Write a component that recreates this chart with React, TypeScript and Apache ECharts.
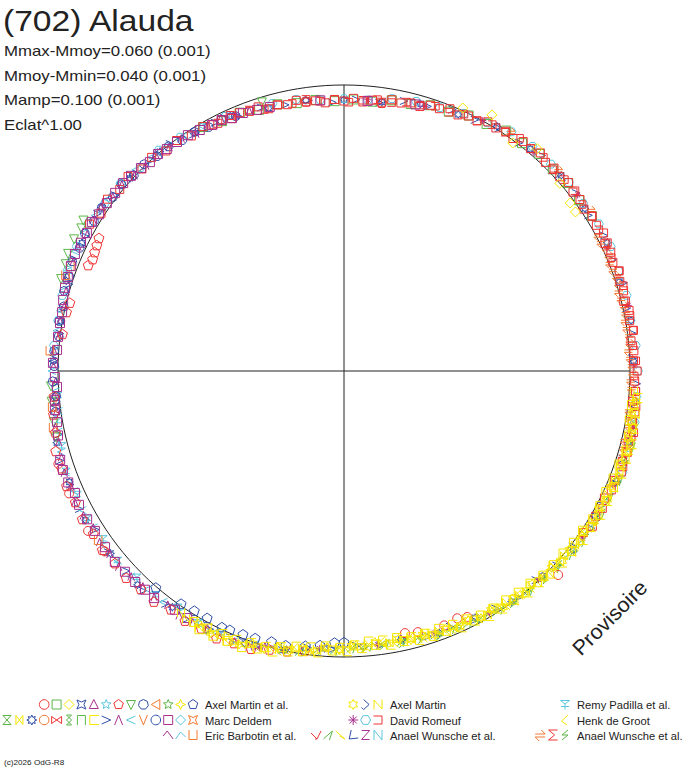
import React, { useEffect, useRef } from "react";
import * as echarts from "echarts";

// ---------- texts ----------
const TITLE = "(702) Alauda";
const STATS = ["Mmax-Mmoy=0.060 (0.001)", "Mmoy-Mmin=0.040 (0.001)", "Mamp=0.100 (0.001)", "Eclat^1.00"];
const WATERMARK = "Provisoire";
const COPYRIGHT = "(c)2026 OdG-R8";

// ---------- colours ----------
const RED = "#ee3333";
const GREEN = "#5cb848";
const YELLOW = "#f6e600";
const BLUE = "#2f4fa8";
const MAGENTA = "#a8308e";
const CYAN = "#5cc6e0";
const ORANGE = "#f47a30";

// ---------- data: [relative radius (1 = reference circle), phase angle in degrees, 0 = top, clockwise] ----------
const magentaSquare = [
  [1.018, 271.6], [1.006, 274.2], [1.007, 276.8], [1.007, 279.6], [1.007, 281.8], [1.013, 284.2], [1.018, 286.6],
  [1.02, 288.8], [1.023, 291], [1.026, 293.5], [1.023, 296], [1.02, 298.2], [1.024, 300.6], [1.017, 302.6],
  [1.016, 305.3], [1.014, 307.9], [1.014, 310.4], [1.01, 312.5], [1.004, 315], [0.997, 317.1], [0.999, 319.4],
  [0.993, 321.4], [0.991, 323.9], [0.989, 326.5], [0.982, 329.1], [0.976, 331.8], [0.976, 334], [0.967, 336.1],
  [0.969, 338.6], [0.962, 341.6], [0.959, 344.3], [0.95, 355], [0.948, 5], [0.965, 15],
  [1.04, 252.6], [1.042, 250.6], [1.04, 248], [1.033, 245.6], [1.038, 243.2], [1.037, 240], [1.035, 237.3],
  [1.038, 233.6], [1.043, 230.2], [1.039, 227.5], [1.038, 224.7], [1.034, 222.3], [1.035, 219.9], [1.023, 215.3],
  [1.023, 212.4], [1.011, 268.8], [1.005, 266.8], [1.016, 264.3], [1.02, 262.3], [1.019, 259.9], [1.025, 257.3],
];
const magentaLambda = [
  [1.002, 196], [1.02, 199], [1.021, 202], [1.027, 205], [1.018, 208], [1.026, 211], [1.031, 214], [1.024, 217],
  [1.033, 220], [1.031, 223], [1.035, 226], [1.044, 229], [1.039, 232], [1.043, 235], [1.034, 238], [1.042, 241],
  [1.047, 244], [1.037, 247], [1.041, 250], [1.033, 253], [1.028, 256], [1.028, 259], [1.015, 262], [1.017, 265],
  [1.008, 268], [1.016, 271], [1.017, 274], [1.004, 277], [1.008, 280], [1.004, 283], [1.011, 286], [1.024, 289],
  [1.021, 292], [1.026, 295], [1.017, 298], [1.024, 301], [1.025, 304], [1.012, 307], [1.014, 310], [1.003, 313],
  [0.998, 316], [1.004, 319], [0.993, 322], [0.992, 325], [0.978, 328], [0.982, 331], [0.983, 334], [0.969, 337],
  [0.968, 340],
];
const redPentagon = [
  [0.988, 188], [1.0, 191.5], [1.008, 195], [1.024, 198.5], [1.026, 202], [1.035, 205.5], [1.029, 209],
  [1.035, 212.5], [1.03, 216], [1.045, 219.5], [1.042, 223], [1.05, 226.5], [1.045, 230], [1.051, 233.5],
  [1.045, 237], [1.051, 240.5], [1.045, 244], [1.05, 247.5], [1.044, 251], [1.046, 254.5], [1.032, 258],
  [1.027, 261.5], [1.018, 265],
  [0.975, 298.5], [0.97, 297], [0.966, 295.5], [0.962, 294], [0.968, 292.5], [0.988, 284], [0.992, 282],
  [0.993, 277.5], [0.952, 352], [0.947, 8],
];
const bluePentagon = [
  [1.003, 221], [0.993, 215], [0.988, 212], [0.987, 209], [0.992, 205.5], [0.989, 203.8], [0.986, 201],
  [0.984, 198.4], [0.979, 195], [0.98, 192], [0.97, 188], [0.962, 185], [0.95, 182], [0.948, 180],
];
const blueHeptagon = [
  [1.018, 262], [1.01, 265], [1.019, 268], [1.013, 271], [1.016, 274], [1.005, 277], [1.011, 280], [1.006, 283],
  [1.018, 286], [1.016, 289], [1.025, 292], [1.02, 295], [1.026, 298], [1.02, 301], [1.022, 304], [1.012, 307],
  [1.016, 310], [1.005, 313], [1.006, 316], [0.996, 319], [0.997, 322], [0.986, 325], [0.987, 328], [0.976, 331],
  [0.979, 334], [0.969, 337],
];
const blueStar = [
  [0.948, 0], [0.95, 8], [0.972, 16], [0.982, 24], [1.009, 32], [1.013, 40], [1.022, 48], [1.016, 56], [1.024, 64],
  [1.013, 72], [1.019, 80], [1.013, 88], [1.026, 96], [1.025, 104], [1.028, 112], [1.013, 120], [1.016, 128],
  [0.998, 136], [0.997, 144], [0.977, 152], [0.975, 160], [0.96, 168], [0.966, 176], [0.972, 184], [0.998, 192],
  [1.014, 200], [1.027, 208], [1.021, 216], [1.039, 224], [1.036, 232], [1.043, 240], [1.036, 248], [1.035, 256],
  [1.012, 264], [1.017, 272], [1.004, 280], [1.021, 288], [1.02, 296], [1.022, 304], [1.007, 312], [1.001, 320],
  [0.981, 328], [0.977, 336], [0.956, 344], [0.956, 352],
];
const blueGt = [
  [0.95, 2.5], [0.946, 7.5], [0.967, 12.5], [0.97, 17.5], [0.989, 22.5], [0.99, 27.5], [1.007, 32.5], [1.006, 37.5],
  [1.022, 42.5], [1.016, 47.5], [1.022, 52.5], [1.013, 57.5], [1.025, 62.5], [1.016, 67.5], [1.024, 72.5],
  [1.011, 77.5], [1.015, 82.5], [1.008, 87.5], [1.024, 92.5], [1.02, 97.5], [1.03, 102.5], [1.022, 107.5],
  [1.029, 112.5], [1.017, 117.5], [1.023, 122.5], [1.008, 127.5], [1.007, 132.5], [0.992, 137.5], [0.999, 142.5],
  [0.985, 147.5], [0.983, 152.5], [0.968, 157.5], [0.973, 162.5], [0.96, 167.5], [0.968, 172.5], [0.962, 177.5],
  [0.974, 182.5], [0.976, 187.5], [1.0, 192.5], [1.008, 197.5], [1.026, 202.5], [1.018, 207.5], [1.029, 212.5],
  [1.026, 217.5], [1.042, 222.5], [1.035, 227.5], [1.041, 232.5], [1.032, 237.5], [1.044, 242.5], [1.037, 247.5],
  [1.042, 252.5], [1.022, 257.5], [1.021, 262.5], [1.012, 267.5], [1.019, 272.5], [1.003, 277.5], [1.009, 282.5],
  [1.009, 287.5], [1.026, 292.5], [1.02, 297.5], [1.023, 302.5], [1.009, 307.5], [1.014, 312.5], [0.999, 317.5],
  [1.0, 322.5], [0.981, 327.5], [0.979, 332.5], [0.963, 337.5], [0.966, 342.5], [0.953, 347.5], [0.955, 352.5],
  [0.94, 357.5],
];
const cyanHexagon = [
  [1.018, 275], [1.015, 280], [1.02, 285], [1.029, 290], [1.031, 295],
  [1.032, 300], [1.021, 305], [1.02, 310], [1.006, 315], [1.008, 320], [0.998, 325], [0.985, 330], [0.982, 335],
  [0.969, 340], [0.968, 345], [0.964, 350], [0.952, 355], [0.952, 0], [0.951, 5], [0.967, 10], [0.976, 15],
  [0.98, 20], [0.994, 25], [1.002, 30], [1.021, 35], [1.025, 40], [1.023, 45], [1.026, 50], [1.021, 55],
  [1.029, 60], [1.029, 65], [1.022, 70], [1.023, 75], [1.017, 80], [1.024, 85], [1.028, 90], [1.026, 95],
  [1.032, 100], [1.032, 105], [1.036, 110],
];
const cyanLt = [
  [1.004, 198], [1.018, 202], [1.016, 206], [1.02, 210], [1.016, 214], [1.025, 218], [1.027, 222], [1.035, 226],
  [1.032, 230], [1.036, 234], [1.032, 238], [1.036, 242], [1.032, 246], [1.036, 250], [1.028, 254], [1.022, 258],
  [1.008, 262], [1.01, 266], [1.021, 270], [1.016, 274], [1.013, 278], [1.013, 282], [1.021, 286], [1.027, 290],
  [1.029, 294], [1.029, 298], [1.026, 302], [1.022, 306], [1.019, 310], [1.012, 314], [1.006, 318], [1.0, 322],
  [0.993, 326], [0.987, 330],
];
const cyanTripod = [
  [1.014, 205], [1.019, 210], [1.012, 215], [1.025, 220], [1.024, 225], [1.035, 230], [1.028, 235], [1.036, 240],
  [1.029, 245], [1.034, 250], [1.022, 255], [1.017, 260], [1.004, 265],
];
const greenSquare = [
  [0.985, 330], [0.972, 334], [0.974, 338], [0.96, 342], [0.961, 346], [0.951, 350], [0.953, 354], [0.944, 358],
  [0.95, 2], [0.947, 6], [0.961, 10], [0.962, 14], [0.977, 18], [0.978, 22], [0.994, 26], [0.997, 30], [1.014, 34],
  [1.011, 38], [1.021, 42], [1.015, 46], [1.023, 50], [1.016, 54], [1.022, 58],
];
const greenBolt = [
  [1.032, 100], [1.04, 104], [1.033, 108], [1.036, 112], [1.027, 116], [1.03, 120], [1.021, 124], [1.024, 128],
  [1.013, 132], [1.014, 136], [1.003, 140], [1.004, 144], [0.993, 148], [0.991, 152], [0.983, 156], [0.982, 160],
  [0.975, 164], [0.973, 168], [0.968, 172], [0.972, 176],
];
const greenFlag = [
  [1.03, 101.5], [1.037, 105], [1.031, 108.5], [1.032, 112], [1.025, 115.5], [1.026, 119], [1.02, 122.5],
  [1.021, 126], [1.014, 129.5], [1.013, 133], [1.005, 136.5], [1.005, 140], [0.998, 143.5], [0.997, 147],
  [0.987, 150.5], [0.986, 154], [0.978, 157.5], [0.979, 161], [0.97, 164.5], [0.97, 168], [0.965, 171.5],
  [0.969, 175], [0.972, 178.5], [0.98, 182], [0.983, 185.5], [0.995, 189], [1.0, 192.5],
];
const greenInvTriangle = [
  [1.048, 293], [1.05, 296], [1.045, 298.5], [1.052, 300], [1.042, 291], [1.04, 288], [1.03, 260], [1.028, 264],
  [1.026, 267], [1.033, 257], [0.982, 343],
];
const magentaAsterisk = [
  [0.952, 5], [0.968, 17], [1.001, 29], [1.012, 41], [1.023, 53], [1.016, 65], [1.02, 77], [1.014, 89], [1.03, 101],
  [1.019, 113], [1.018, 125], [0.997, 137], [0.988, 149], [0.968, 161], [0.963, 173], [0.974, 185], [1.012, 197],
];
const redCircle = [
  [1.034, 133.6], [0.962, 153.4], [0.951, 155.4], [0.949, 164.2], [0.941, 166.9], [0.956, 158.5],
  [1.055, 238], [1.052, 246], [1.048, 233], [1.05, 252],
];
const orangeArrows = [
  [1.006, 62], [1.012, 65], [1.002, 68], [1.008, 71], [0.999, 74], [1.006, 77], [0.998, 80], [1.005, 83],
  [0.997, 86], [1.007, 89], [1.003, 92], [1.012, 95], [1.006, 98], [1.016, 101], [1.01, 104], [1.019, 107],
  [1.004, 63.5], [1.01, 66.5], [1.004, 69.5], [1.007, 72.5], [1.001, 75.5], [1.005, 78.5], [1.0, 81.5],
  [1.004, 84.5], [1.002, 87.5], [1.009, 90.5], [1.007, 93.5], [1.012, 96.5], [1.01, 99.5], [1.017, 102.5],
  [1.015, 105.5], [1.018, 35], [1.026, 47], [1.03, 57],
];
const orangeCup = [[1.031, 274], [1.025, 291], [1.03, 289], [1.028, 263], [1.043, 235.5], [1.036, 259]];
const redBracket = [
  [0.971, 340], [0.956, 343], [0.959, 346], [0.953, 349], [0.959, 352], [0.947, 355], [0.949, 358], [0.94, 1],
  [0.949, 4], [0.956, 7], [0.953, 10], [0.965, 13], [0.967, 16], [0.979, 19], [0.976, 22], [0.991, 25], [0.99, 28],
  [1.005, 31], [1.007, 34], [1.019, 37], [1.015, 40], [1.021, 43], [1.013, 46], [1.02, 49], [1.024, 52],
  [1.015, 55], [1.021, 58], [1.018, 61], [1.024, 64], [1.014, 67], [1.022, 70], [1.02, 73], [1.014, 76],
  [1.018, 79], [1.02, 82], [1.013, 85], [1.02, 88], [1.014, 91], [1.022, 94], [1.028, 97], [1.021, 100],
  [1.03, 103], [1.027, 106], [1.031, 109], [1.019, 112],
];
const redSquare = [
  [0.987, 330], [0.975, 332], [0.977, 334], [0.966, 336], [0.974, 338], [0.966, 340], [0.971, 342], [0.954, 344],
  [0.959, 346], [0.952, 348], [0.961, 350], [0.95, 352], [0.95, 354], [0.94, 356], [0.95, 358], [0.944, 0],
  [0.954, 2], [0.943, 4], [0.952, 6], [0.949, 8], [0.963, 10], [0.958, 12], [0.966, 14], [0.962, 16], [0.977, 18],
  [0.976, 20], [0.989, 22], [0.98, 24], [0.992, 26], [0.991, 28], [1.006, 30], [1.002, 32], [1.011, 34],
  [1.005, 36], [1.018, 38], [1.015, 40], [1.026, 42], [1.014, 44], [1.021, 46], [1.015, 48], [1.025, 50],
  [1.016, 52], [1.02, 54], [1.012, 56], [1.023, 58], [1.019, 60], [1.028, 62], [1.015, 64], [1.021, 66],
  [1.014, 68], [1.024, 70], [1.014, 72], [1.017, 74], [1.008, 76], [1.019, 78], [1.014, 80], [1.022, 82],
  [1.009, 84], [1.016, 86], [1.013, 88], [1.025, 90], [1.017, 92], [1.022, 94], [1.015, 96], [1.027, 98],
  [1.024, 100], [1.035, 102], [1.024, 104], [1.031, 106], [1.023, 108], [1.032, 110], [1.021, 112], [1.023, 114],
  [1.013, 116], [1.023, 118], [1.016, 120], [1.024, 122], [1.01, 124],
  [1.027, 300], [1.013, 303], [1.022, 306], [1.009, 309], [1.016, 312], [0.999, 315], [1.005, 318], [0.99, 321],
  [0.996, 324], [0.98, 327], [0.972, 333], [0.978, 336],
];
const yellowDiamond = [[1.009, 24.3], [1.034, 30], [0.992, 36.5], [0.985, 53.4], [0.982, 55.5], [1.03, 41], [1.0, 49]];
const yellowChevron = [
  [1.016, 100], [1.035, 103], [1.022, 106], [1.033, 109], [1.018, 112], [1.027, 115], [1.014, 118], [1.024, 121],
  [1.01, 124], [1.019, 127], [1.003, 130], [1.012, 133], [0.996, 136], [1.005, 139], [0.99, 142], [0.999, 145],
  [0.981, 148], [0.989, 151], [0.972, 154], [0.981, 157], [0.967, 160], [0.974, 163], [0.959, 166], [0.968, 169],
  [0.955, 172], [0.967, 175], [0.96, 178], [0.976, 181], [0.97, 184], [0.988, 187], [0.983, 190], [1.004, 193],
];
const yellowZig = [
  [1.016, 94], [1.025, 95.5], [1.022, 97], [1.031, 98.5], [1.021, 100], [1.028, 101.5], [1.02, 103], [1.034, 104.5],
  [1.027, 106], [1.032, 107.5], [1.021, 109], [1.028, 110.5], [1.023, 112], [1.029, 113.5], [1.017, 115],
  [1.022, 116.5], [1.011, 118], [1.022, 119.5], [1.014, 121], [1.02, 122.5], [1.01, 124], [1.016, 125.5],
  [1.011, 127], [1.018, 128.5], [1.005, 130], [1.009, 131.5], [0.997, 133], [1.009, 134.5], [1.0, 136],
  [1.004, 137.5], [0.993, 139], [1.0, 140.5], [0.995, 142], [1.001, 143.5], [0.988, 145], [0.992, 146.5],
  [0.979, 148], [0.99, 149.5], [0.98, 151], [0.984, 152.5], [0.973, 154], [0.98, 155.5], [0.974, 157],
  [0.98, 158.5], [0.968, 160], [0.972, 161.5], [0.959, 163], [0.971, 164.5], [0.961, 166], [0.966, 167.5],
  [0.956, 169], [0.964, 170.5], [0.96, 172], [0.967, 173.5], [0.957, 175], [0.966, 176.5], [0.959, 178],
  [0.974, 179.5], [0.969, 181], [0.977, 182.5], [0.97, 184], [0.982, 185.5], [0.981, 187], [0.993, 188.5],
  [0.985, 190], [0.995, 191.5], [0.989, 193], [1.007, 194.5], [1.004, 196], [1.015, 197.5], [1.01, 199],
  [1.022, 200.5], [1.021, 202], [1.03, 203.5], [1.02, 205], [1.026, 206.5], [1.016, 208], [1.029, 209.5],
  [1.022, 211], [1.028, 212.5], [1.019, 214],
];
const yellowSqLeft = [
  [1.032, 95.25], [1.014, 96.75], [1.027, 98.25], [1.014, 99.75], [1.034, 101.25], [1.022, 102.75], [1.04, 104.25],
  [1.026, 105.75], [1.034, 107.25], [1.017, 108.75], [1.036, 110.25], [1.015, 111.75], [1.027, 113.25],
  [1.01, 114.75], [1.028, 116.25], [1.013, 117.75], [1.029, 119.25], [1.014, 120.75], [1.022, 122.25],
  [1.005, 123.75], [1.024, 125.25], [1.004, 126.75], [1.016, 128.25], [0.998, 129.75], [1.016, 131.25],
  [1.0, 132.75], [1.015, 134.25], [0.999, 135.75], [1.006, 137.25], [0.989, 138.75], [1.007, 140.25],
  [0.987, 141.75], [0.998, 143.25], [0.982, 144.75], [0.999, 146.25], [0.982, 147.75], [0.997, 149.25],
  [0.98, 150.75], [0.986, 152.25], [0.968, 153.75], [0.987, 155.25], [0.966, 156.75], [0.978, 158.25],
  [0.961, 159.75], [0.978, 161.25], [0.962, 162.75], [0.977, 164.25], [0.96, 165.75], [0.968, 167.25],
  [0.952, 168.75], [0.971, 170.25], [0.952, 171.75], [0.964, 173.25], [0.95, 174.75], [0.971, 176.25],
  [0.96, 177.75], [0.98, 179.25], [0.968, 180.75], [0.978, 182.25], [0.965, 183.75], [0.988, 185.25],
  [0.973, 186.75], [0.99, 188.25], [0.978, 189.75], [1.0, 191.25], [0.99, 192.75], [1.012, 194.25],
  [1.002, 195.75], [1.016, 197.25], [1.004, 198.75], [1.029, 200.25], [1.012, 201.75], [1.027, 203.25],
  [1.013, 204.75], [1.032, 206.25], [1.018, 207.75], [1.035, 209.25], [1.021, 210.75],
];
const yellowStar = [
  [1.028, 96], [1.018, 98.5], [1.031, 101], [1.022, 103.5], [1.035, 106], [1.02, 108.5], [1.029, 111],
  [1.016, 113.5], [1.026, 116], [1.012, 118.5], [1.022, 121], [1.009, 123.5], [1.018, 126], [1.005, 128.5],
  [1.013, 131], [0.999, 133.5], [1.008, 136], [0.993, 138.5], [1.003, 141], [0.989, 143.5], [0.997, 146],
  [0.98, 148.5], [0.988, 151], [0.973, 153.5], [0.982, 156], [0.967, 158.5], [0.977, 161], [0.962, 163.5],
  [0.97, 166], [0.956, 168.5], [0.967, 171], [0.954, 173.5], [0.969, 176], [0.961, 178.5], [0.976, 181],
  [0.968, 183.5], [0.986, 186], [0.979, 188.5], [0.997, 191], [0.991, 193.5], [1.012, 196], [1.005, 198.5],
  [1.024, 201], [1.016, 204], [1.028, 207], [1.02, 210],
];

// ---------- legend ----------
const LEGEND_LABELS = [
  "Axel Martin et al.", "Marc Deldem", "Eric Barbotin et al.",
  "Axel Martin", "David Romeuf", "Anael Wunsche et al.",
  "Remy Padilla et al.", "Henk de Groot", "Anael Wunsche et al.",
];
const LEGEND_SYMBOLS: [string, string][][] = [
  [["circle", RED], ["square", GREEN], ["diamond", YELLOW], ["cross4", BLUE], ["triangle", MAGENTA], ["star5", CYAN],
   ["pentagon", RED], ["invTriangle", GREEN], ["heptagon", BLUE], ["leftTriangle", ORANGE], ["star5", GREEN],
   ["star4", YELLOW], ["pentagon", BLUE]],
  [["hourglass", GREEN], ["bowtie", YELLOW], ["star8", BLUE], ["octagon", ORANGE], ["bowtieH", RED], ["eight", GREEN],
   ["pi", GREEN], ["sqLeft", YELLOW], ["gt", BLUE], ["lambda", MAGENTA], ["lt", CYAN], ["vee", ORANGE],
   ["circle", BLUE], ["square", MAGENTA], ["diamond", CYAN], ["cross4", ORANGE]],
  [["caret", MAGENTA], ["caret2", CYAN], ["cupU", ORANGE]],
  [["star6", YELLOW], ["halfDiamond", BLUE], ["zigN", YELLOW]],
  [["asterisk", MAGENTA], ["hexagon", CYAN], ["bracketR", RED]],
  [["check", RED], ["flag", GREEN], ["flag2", YELLOW], ["ell", BLUE], ["zed", MAGENTA], ["enn", CYAN]],
  [["tripod", CYAN]],
  [["chevron", YELLOW]],
  [["arrows", ORANGE], ["sigma", RED], ["bolt", GREEN]],
];

// ---------- symbol shapes (unit box -5..5) ----------
type Stroke = { closed: boolean; pts: number[][] };
const C = (pts: number[][]): Stroke => ({ closed: true, pts });
const O = (pts: number[][]): Stroke => ({ closed: false, pts });
const SHAPES: Record<string, Stroke[]> = {
  square: [C([[-4.5, -4.5], [4.5, -4.5], [4.5, 4.5], [-4.5, 4.5]])],
  diamond: [C([[0, -5], [5, 0], [0, 5], [-5, 0]])],
  cross4: [C([[-4.5, -4.5], [0, -2.5], [4.5, -4.5], [2.5, 0], [4.5, 4.5], [0, 2.5], [-4.5, 4.5], [-2.5, 0]])],
  triangle: [C([[0, -5], [4.5, 4], [-4.5, 4]])],
  star5: [C([[0, -5], [1.29, -1.78], [4.76, -1.55], [2.09, 0.68], [2.94, 4.05], [0, 2.2], [-2.94, 4.05], [-2.09, 0.68], [-4.76, -1.55], [-1.29, -1.78]])],
  pentagon: [C([[0, -5], [4.76, -1.55], [2.94, 4.05], [-2.94, 4.05], [-4.76, -1.55]])],
  invTriangle: [C([[-4.5, -4], [4.5, -4], [0, 5]])],
  heptagon: [C([[0, -5], [3.91, -3.12], [4.87, 1.11], [2.17, 4.5], [-2.17, 4.5], [-4.87, 1.11], [-3.91, -3.12]])],
  leftTriangle: [C([[4, -5], [4, 5], [-4.5, 0]])],
  star4: [C([[0, -5], [1.5, -1.5], [5, 0], [1.5, 1.5], [0, 5], [-1.5, 1.5], [-5, 0], [-1.5, -1.5]])],
  hourglass: [C([[-4, -4.5], [4, -4.5], [-4, 4.5], [4, 4.5]])],
  bowtie: [C([[-3.5, -4.5], [3.5, 4.5], [3.5, -4.5], [-3.5, 4.5]])],
  star8: [C([[0, -5], [1.07, -2.59], [3.54, -3.54], [2.59, -1.07], [5, 0], [2.59, 1.07], [3.54, 3.54], [1.07, 2.59], [0, 5], [-1.07, 2.59], [-3.54, 3.54], [-2.59, 1.07], [-5, 0], [-2.59, -1.07], [-3.54, -3.54], [-1.07, -2.59]])],
  octagon: [C([[4.62, 1.91], [1.91, 4.62], [-1.91, 4.62], [-4.62, 1.91], [-4.62, -1.91], [-1.91, -4.62], [1.91, -4.62], [4.62, -1.91]])],
  bowtieH: [C([[-5, -3.5], [5, 3.5], [5, -3.5], [-5, 3.5]])],
  eight: [C([[-2.5, -5], [2.5, -5], [-2.5, 0], [2.5, 5], [-2.5, 5], [2.5, 0]])],
  pi: [O([[-4, 5], [-4, -4.5], [4, -4.5], [4, 5]])],
  sqLeft: [O([[5, -4.5], [-4, -4.5], [-4, 4.5], [5, 4.5]])],
  gt: [O([[-4.5, -4], [4.5, 0], [-4.5, 4]])],
  lambda: [O([[-4, 5], [0, -5], [4, 5]])],
  lt: [O([[4.5, -4], [-4.5, 0], [4.5, 4]])],
  vee: [O([[-4, -5], [0, 5], [4, -5]])],
  caret: [O([[-5, 1], [-1, -4], [5, 4]])],
  caret2: [O([[-5, 4], [0, -3], [5, 2]])],
  cupU: [O([[-4, -5], [-4, 4.5], [4, 4.5], [4, -5]])],
  star6: [C([[0, -5], [1.45, -2.51], [4.33, -2.5], [2.9, 0], [4.33, 2.5], [1.45, 2.51], [0, 5], [-1.45, 2.51], [-4.33, 2.5], [-2.9, 0], [-4.33, -2.5], [-1.45, -2.51]])],
  halfDiamond: [O([[-2, -5], [3.5, 0], [-2, 5], [-4, 3]])],
  zigN: [O([[-4, 5], [-4, -4.5], [4, 4.5], [4, -5]])],
  asterisk: [O([[0, -5], [0, 5]]), O([[-5, 0], [5, 0]]), O([[-3.5, -3.5], [3.5, 3.5]]), O([[3.5, -3.5], [-3.5, 3.5]])],
  hexagon: [C([[-5, 0], [-2.5, -4.33], [2.5, -4.33], [5, 0], [2.5, 4.33], [-2.5, 4.33]])],
  bracketR: [O([[-4.5, -4], [4, -4], [4, 4], [-4.5, 4]])],
  check: [O([[-5, -2], [1, 4], [5, -4]]), O([[1, 4], [-1, 4]])],
  flag: [O([[-5, 4], [4, -4], [1, 5]])],
  flag2: [O([[-5, -4], [4, 4], [-1, 1]])],
  ell: [O([[-2, -5], [-4, 4], [5, 3]])],
  zed: [O([[-4, -4.5], [4, -4.5], [-4, 4.5], [4, 4.5]])],
  enn: [O([[-4, 5], [-4, -5], [4, 5], [4, -5]])],
  tripod: [O([[-4.5, -4], [0, -0.5], [4.5, -4]]), O([[0, -0.5], [0, 5]]), O([[-4, 2], [4, 2]]), O([[-4.5, -4], [4.5, -4]])],
  chevron: [O([[3, -5], [-3.5, 1], [2, 5]])],
  arrows: [O([[-5, -1], [5, -1], [1, -5]]), O([[5, 2], [-5, 2], [-1, 6]])],
  sigma: [O([[5, -5], [-4, -5], [2, 0], [-4, 5], [5, 5]])],
  bolt: [O([[3, -5], [-3, 0], [3, 0], [-3, 5]])],
};

const PLOT_SERIES: [number[][], string, string, number][] = [
  [blueGt, "gt", BLUE, 8],
  [blueStar, "star8", BLUE, 8],
  [cyanLt, "lt", CYAN, 8],
  [cyanHexagon, "hexagon", CYAN, 9],
  [cyanTripod, "tripod", CYAN, 8],
  [greenSquare, "square", GREEN, 9],
  [greenFlag, "flag", GREEN, 9],
  [greenBolt, "bolt", GREEN, 9],
  [greenInvTriangle, "invTriangle", GREEN, 9],
  [magentaLambda, "lambda", MAGENTA, 8],
  [magentaAsterisk, "asterisk", MAGENTA, 7],
  [blueHeptagon, "heptagon", BLUE, 9],
  [bluePentagon, "pentagon", BLUE, 10],
  [redPentagon, "pentagon", RED, 10],
  [redCircle, "circle", RED, 9],
  [orangeArrows, "arrows", ORANGE, 9],
  [orangeCup, "cupU", ORANGE, 9],
  [redSquare, "square", RED, 8],
  [redBracket, "bracketR", RED, 8],
  [magentaSquare, "square", MAGENTA, 9],
  [yellowDiamond, "diamond", YELLOW, 10],
  [yellowChevron, "chevron", YELLOW, 9],
  [yellowSqLeft, "sqLeft", YELLOW, 9],
  [yellowZig, "zigN", YELLOW, 9],
  [yellowStar, "star6", YELLOW, 9],
];

const FONT = '"Liberation Sans", Arial, sans-serif';
const INK = "#222";
const AXIS_R = 1.038;

function shapePath(name: string): string {
  if (name === "circle") return "circle";
  const d = SHAPES[name]
    .map((s) => "M" + s.pts.map((p) => p[0] + " " + p[1]).join("L") + (s.closed ? "Z" : ""))
    .join("");
  return "path://" + d;
}

function legendSymbol(name: string, color: string, x: number, y: number): any {
  const style = { fill: "none", stroke: color, lineWidth: 1 };
  if (name === "circle") {
    return { type: "circle", x, y, silent: true, shape: { cx: 0, cy: 0, r: 4.8 }, style };
  }
  return {
    type: "group",
    x,
    y,
    silent: true,
    children: SHAPES[name].map((s) => ({
      type: s.closed ? "polygon" : "polyline",
      shape: { points: s.pts },
      style,
    })),
  };
}

function text(str: string, x: number, y: number, size: number, scaleX: number, extra: any = {}): any {
  return {
    type: "text",
    x,
    y,
    scaleX,
    silent: true,
    ...extra,
    style: {
      text: str,
      font: `${size}px ${FONT}`,
      fill: INK,
      align: extra.align || "left",
      verticalAlign: "middle",
      textAlign: extra.align || "left",
      textVerticalAlign: "middle",
    },
  };
}

export default function App() {
  const ref = useRef<HTMLDivElement>(null);
  useEffect(() => {
    if (!ref.current) return;
    const chart = echarts.init(ref.current, undefined, { renderer: "svg" });

    const graphic: any[] = [];
    graphic.push(text(TITLE, 3, 21, 30, 1.12));
    const statY = [51, 76, 100, 125];
    STATS.forEach((s, i) => graphic.push(text(s, 4, statY[i], 14, 1.2)));
    graphic.push(text(WATERMARK, 610, 618, 21, 1.03, { rotation: Math.PI / 4, align: "center" }));
    graphic.push(text(COPYRIGHT, 4, 763, 8, 1.02));

    const colTextX = [205, 390, 577];
    const rowY = [705, 721, 736.5];
    const symRowY = [704.5, 720, 735];
    const step = 12.4;
    LEGEND_LABELS.forEach((label, i) => {
      const col = Math.floor(i / 3);
      const row = i % 3;
      graphic.push(text(label, colTextX[col], rowY[row], 10, 1.12));
      const syms = LEGEND_SYMBOLS[i];
      const endX = colTextX[col] - 12;
      syms.forEach(([name, color], k) => {
        const x = endX - (syms.length - 1 - k) * step;
        graphic.push(legendSymbol(name, color, x, symRowY[row]));
      });
    });

    const series: any[] = [
      {
        type: "line",
        coordinateSystem: "polar",
        data: [[AXIS_R, 0], [AXIS_R, 180]],
        symbol: "none",
        clip: false,
        silent: true,
        lineStyle: { color: INK, width: 1 },
        z: 1,
      },
      {
        type: "line",
        coordinateSystem: "polar",
        data: [[AXIS_R, 90], [AXIS_R, 270]],
        symbol: "none",
        clip: false,
        silent: true,
        lineStyle: { color: INK, width: 1 },
        z: 1,
      },
    ];
    PLOT_SERIES.forEach(([data, shape, color, size]) => {
      series.push({
        type: "scatter",
        coordinateSystem: "polar",
        data,
        symbol: shapePath(shape),
        symbolSize: size,
        symbolKeepAspect: true,
        clip: false,
        silent: true,
        itemStyle: { color: "rgba(0,0,0,0)", borderColor: color, borderWidth: 1, opacity: 1 },
        z: 2,
      });
    });

    chart.setOption({
      animation: false,
      backgroundColor: "#ffffff",
      polar: { center: [344, 371], radius: 286 },
      angleAxis: {
        type: "value",
        min: 0,
        max: 360,
        startAngle: 90,
        clockwise: true,
        axisLine: { show: true, lineStyle: { color: INK, width: 1 } },
        axisTick: { show: false },
        axisLabel: { show: false },
        splitLine: { show: false },
      },
      radiusAxis: {
        type: "value",
        min: 0,
        max: 1,
        axisLine: { show: false },
        axisTick: { show: false },
        axisLabel: { show: false },
        splitLine: { show: false },
      },
      graphic: { elements: graphic },
      series,
    });
    return () => chart.dispose();
  }, []);
  return (
    <div
      ref={ref}
      style={{ position: "fixed", left: 0, top: 0, width: 688, height: 768, background: "#fff" }}
    />
  );
}
